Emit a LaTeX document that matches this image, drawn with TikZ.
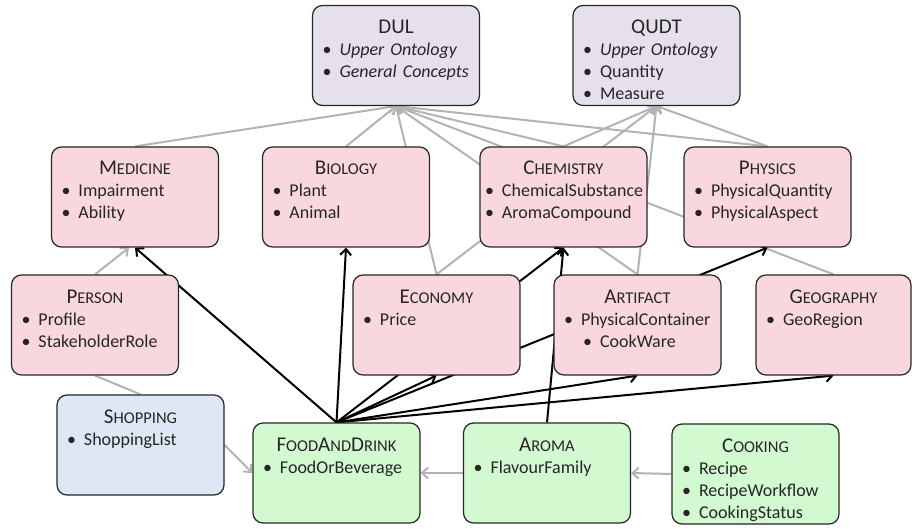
\documentclass[tikz,border=0pt]{standalone}
\usepackage{fontspec}
\setmainfont{Carlito}
\usetikzlibrary{arrows.meta,backgrounds}
\definecolor{pinkfill}{HTML}{F8D8DD}
\definecolor{lilacfill}{HTML}{E6E0EC}
\definecolor{bluefill}{HTML}{DDE8F4}
\definecolor{greenfill}{HTML}{D3F9D1}
\definecolor{linkgray}{HTML}{B3B3B3}
\definecolor{inkgray}{HTML}{262626}
\newcommand{\sml}[1]{{\fontsize{16.5}{22}\selectfont #1}}
\newcommand{\ttl}[1]{{\centering\fontsize{21}{22}\selectfont #1\par}}
\newcommand{\itm}[2][2pt]{\hspace*{#1}\makebox[17pt][l]{\textbullet}#2\par}
\tikzset{
  ontobox/.style={draw=black!85, line width=1.2pt, rounded corners=10pt, inner sep=8pt,
    text width=151pt, text height=20pt, text depth=64pt,
    font=\fontsize{18}{22}\selectfont, text=inkgray},
  imports/.style={draw=linkgray, line width=2pt, -{Straight Barb[length=6pt,width=11pt]}},
  plainlink/.style={draw=linkgray, line width=2pt},
  uses/.style={draw=black, line width=2pt, -{Straight Barb[length=6pt,width=11pt]}}
}
\begin{document}
\begin{tikzpicture}[x=1pt,y=-1pt]
            \useasboundingbox (0,0) rectangle (912,529);
            \node (dul) at (396,55.5) [ontobox,fill=lilacfill] {\ttl{DUL}\itm{\textit{Upper Ontology}}\itm{\textit{General Concepts}}};
            \node (qudt) at (656.5,55.5) [ontobox,fill=lilacfill] {\ttl{QUDT}\itm{\textit{Upper Ontology}}\itm{Quantity}\itm{Measure}};
            \node (med) at (135,197) [ontobox,fill=pinkfill] {\ttl{M\sml{EDICINE}}\itm{Impairment}\itm{Ability}};
            \node (bio) at (346,197) [ontobox,fill=pinkfill] {\ttl{B\sml{IOLOGY}}\itm{Plant}\itm{Animal}};
            \node (chem) at (563.5,197) [ontobox,fill=pinkfill] {\ttl{C\sml{HEMISTRY}}\itm[-3pt]{ChemicalSubstance}\itm[-3pt]{AromaCompound}};
            \node (phys) at (767.5,197) [ontobox,fill=pinkfill] {\ttl{P\sml{HYSICS}}\itm{PhysicalQuantity}\itm{PhysicalAspect}};
            \node (pers) at (95,325) [ontobox,fill=pinkfill] {\ttl{P\sml{ERSON}}\itm{Profile}\itm{StakeholderRole}};
            \node (econ) at (436.5,325) [ontobox,fill=pinkfill] {\ttl{E\sml{CONOMY}}\itm{Price}};
            \node (arti) at (637.5,325) [ontobox,fill=pinkfill] {\ttl{A\sml{RTIFACT}}\itm{PhysicalContainer}\itm[21pt]{CookWare}};
            \node (geo) at (833.5,325) [ontobox,fill=pinkfill,text width=139pt] {\ttl{G\sml{EOGRAPHY}}\itm{GeoRegion}};
            \node (shop) at (140.5,445) [ontobox,fill=bluefill] {\ttl{S\sml{HOPPING}}\itm{ShoppingList}};
            \node (food) at (336.5,473) [ontobox,fill=greenfill] {\ttl{F\sml{OOD}A\sml{ND}D\sml{RINK}}\itm{FoodOrBeverage}};
            \node (aroma) at (547,473) [ontobox,fill=greenfill] {\ttl{A\sml{ROMA}}\itm{FlavourFamily}};
            \node (cook) at (755.5,474) [ontobox,fill=greenfill] {\ttl{C\sml{OOKING}}\itm{Recipe}\itm{RecipeWorkflow}\itm{CookingStatus}};
            \begin{scope}[on background layer]
            \draw[imports] (med.north)--(dul.south);
            \draw[imports] (bio.north)--(dul.south);
            \draw[imports] (econ.north)--(dul.south);
            \draw[imports] (chem.north)--(dul.south);
            \draw[imports] (phys.north)--(dul.south);
            \draw[imports] (arti.north)--(dul.south);
            \draw[imports] (geo.north)--(dul.south);
            \draw[imports] (econ.north)--(qudt.south);
            \draw[imports] (chem.north)--(qudt.south);
            \draw[imports] (arti.north)--(qudt.south);
            \draw[imports] (phys.north)--(qudt.south);
            \draw[imports] (pers.north)--([xshift=-6pt]med.south);
            \draw[plainlink] (pers.south)--(shop.north);
            \draw[imports] (shop.east)--(food.west);
            \draw[imports] (aroma.west)--(food.east);
            \draw[imports] (cook.west)--(aroma.east);
            \draw[uses] (food.north)--(med.south);
            \draw[uses] (food.north)--(bio.south);
            \draw[uses] (food.north)--(econ.south);
            \draw[uses] (food.north)--(chem.south);
            \draw[uses] (food.north)--(phys.south);
            \draw[uses] (food.north)--(arti.south);
            \draw[uses] (food.north)--(geo.south);
            \draw[uses] (aroma.north)--(chem.south);
            \end{scope}
        \end{tikzpicture}
\end{document}
